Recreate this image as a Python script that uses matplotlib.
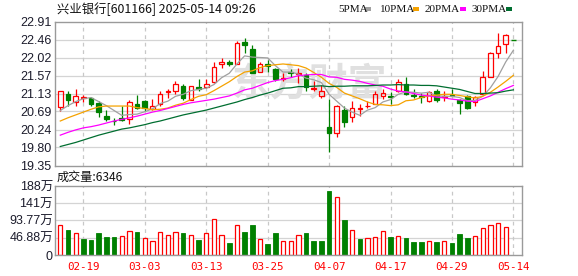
import matplotlib
matplotlib.use('Agg')
import matplotlib.pyplot as plt
from matplotlib.patches import Rectangle

# ---------------- data ----------------
dates = ['02-14', '02-17', '02-18', '02-19', '02-20', '02-21', '02-24', '02-25', '02-26', '02-27',
         '02-28', '03-03', '03-04', '03-05', '03-06', '03-07', '03-10', '03-11', '03-12', '03-13',
         '03-14', '03-17', '03-18', '03-19', '03-20', '03-21', '03-24', '03-25', '03-26', '03-27',
         '03-28', '03-31', '04-01', '04-02', '04-03', '04-07', '04-08', '04-09', '04-10', '04-11',
         '04-14', '04-15', '04-16', '04-17', '04-18', '04-21', '04-22', '04-23', '04-24', '04-25',
         '04-28', '04-29', '04-30', '05-06', '05-07', '05-08', '05-09', '05-12', '05-13', '05-14']

opens = [20.80, 21.12, 20.93, 21.01, 21.01, 20.89, 20.58, 20.46, 20.53, 20.49,
         20.87, 20.94, 20.75, 20.86, 21.17, 21.20, 21.31, 20.97, 21.28, 21.29,
         21.42, 21.87, 21.90, 21.87, 22.41, 22.22, 21.65, 21.86, 21.73, 21.50,
         21.65, 21.61, 21.59, 21.23, 21.07, 20.31, 20.15, 20.71, 20.55, 20.74,
         20.81, 20.87, 21.07, 21.07, 21.20, 21.36, 21.10, 21.07, 20.95, 21.20,
         21.05, 21.10, 20.96, 21.07, 20.93, 21.13, 21.55, 22.14, 22.36, 22.46]
highs = [21.20, 21.18, 21.25, 21.09, 21.05, 20.94, 20.73, 20.53, 20.83, 20.98,
         21.10, 20.98, 21.00, 21.18, 21.24, 21.44, 21.37, 21.31, 21.48, 21.50,
         21.91, 22.00, 21.95, 22.44, 22.49, 22.32, 21.90, 21.95, 21.77, 21.64,
         21.73, 21.75, 21.63, 21.44, 21.33, 21.00, 20.84, 20.83, 20.95, 20.87,
         20.95, 21.18, 21.24, 21.17, 21.49, 21.55, 21.25, 21.15, 21.20, 21.24,
         21.20, 21.24, 20.99, 21.10, 21.07, 21.68, 22.16, 22.63, 22.61, 22.46]
lows = [20.69, 20.81, 20.83, 20.93, 20.83, 20.54, 20.45, 20.36, 20.46, 20.38,
        20.75, 20.69, 20.73, 20.83, 21.01, 21.12, 20.98, 20.97, 21.20, 21.27,
        21.38, 21.75, 21.82, 21.86, 22.14, 21.63, 21.65, 21.66, 21.44, 21.44,
        21.53, 21.38, 21.18, 21.20, 21.02, 19.69, 20.05, 20.30, 20.42, 20.58,
        20.77, 20.87, 21.00, 20.88, 21.16, 21.09, 21.03, 20.89, 20.93, 20.93,
        20.95, 21.06, 20.62, 20.75, 20.83, 21.11, 21.55, 22.01, 22.13, 22.46]
closes = [21.18, 20.98, 21.07, 21.04, 20.87, 20.68, 20.50, 20.45, 20.47, 20.93,
          20.76, 20.78, 20.82, 21.12, 21.20, 21.36, 21.03, 21.31, 21.25, 21.36,
          21.78, 21.91, 21.87, 22.39, 22.34, 21.64, 21.86, 21.80, 21.48, 21.52,
          21.63, 21.64, 21.28, 21.27, 21.20, 20.15, 20.82, 20.43, 20.77, 20.76,
          20.83, 21.11, 21.15, 21.05, 21.41, 21.12, 21.06, 21.04, 21.16, 20.96,
          21.07, 21.06, 20.89, 20.76, 21.04, 21.53, 22.12, 22.30, 22.57, 22.46]

ma5 = [20.71, 20.83, 20.93, 21.00, 21.03, 20.93, 20.83, 20.71, 20.59, 20.61,
       20.62, 20.68, 20.75, 20.88, 20.94, 21.06, 21.11, 21.20, 21.23, 21.26,
       21.35, 21.52, 21.63, 21.86, 22.06, 22.03, 22.02, 22.01, 21.82, 21.66,
       21.66, 21.61, 21.51, 21.47, 21.40, 21.11, 20.94, 20.77, 20.67, 20.59,
       20.72, 20.78, 20.92, 20.98, 21.11, 21.17, 21.16, 21.14, 21.16, 21.07,
       21.06, 21.06, 21.03, 20.95, 20.96, 21.06, 21.27, 21.55, 21.91, 22.20]
ma10 = [20.45, 20.53, 20.60, 20.67, 20.74, 20.80, 20.82, 20.82, 20.82, 20.82,
        20.78, 20.76, 20.73, 20.74, 20.77, 20.84, 20.89, 20.98, 21.06, 21.10,
        21.20, 21.31, 21.42, 21.55, 21.66, 21.69, 21.77, 21.82, 21.84, 21.86,
        21.84, 21.82, 21.76, 21.65, 21.53, 21.38, 21.28, 21.14, 21.07, 21.00,
        20.92, 20.86, 20.85, 20.83, 20.85, 20.95, 20.97, 21.03, 21.07, 21.09,
        21.11, 21.11, 21.08, 21.05, 21.02, 21.06, 21.16, 21.29, 21.43, 21.58]
ma20 = [20.10, 20.17, 20.23, 20.28, 20.31, 20.35, 20.40, 20.45, 20.49, 20.53,
        20.57, 20.62, 20.67, 20.71, 20.76, 20.81, 20.86, 20.90, 20.93, 20.96,
        20.99, 21.03, 21.07, 21.14, 21.22, 21.26, 21.33, 21.40, 21.45, 21.48,
        21.52, 21.57, 21.59, 21.60, 21.60, 21.54, 21.53, 21.48, 21.46, 21.43,
        21.38, 21.34, 21.31, 21.24, 21.19, 21.17, 21.13, 21.09, 21.07, 21.04,
        21.02, 20.99, 20.97, 20.94, 20.93, 21.00, 21.07, 21.16, 21.25, 21.33]
ma30 = [19.82, 19.87, 19.92, 19.98, 20.04, 20.10, 20.15, 20.20, 20.25, 20.28,
        20.32, 20.36, 20.41, 20.45, 20.50, 20.55, 20.60, 20.64, 20.68, 20.72,
        20.77, 20.82, 20.87, 20.92, 20.98, 21.03, 21.09, 21.14, 21.20, 21.26,
        21.27, 21.30, 21.30, 21.31, 21.32, 21.30, 21.31, 21.31, 21.32, 21.32,
        21.32, 21.33, 21.34, 21.34, 21.35, 21.34, 21.34, 21.33, 21.33, 21.32,
        21.29, 21.26, 21.23, 21.18, 21.13, 21.13, 21.14, 21.15, 21.19, 21.22]

volume = [81.5, 68.0, 60.0, 43.5, 41.0, 60.0, 49.0, 49.0, 51.6, 65.0,
          62.5, 46.0, 38.0, 62.5, 54.0, 62.5, 60.0, 54.0, 41.0, 60.0,
          97.0, 54.0, 32.6, 81.5, 62.5, 81.5, 43.5, 30.0, 60.0, 38.0,
          38.0, 53.4, 60.0, 38.0, 38.0, 174.0, 157.0, 95.0, 67.0, 42.6,
          45.3, 48.0, 64.0, 48.0, 50.7, 45.3, 35.3, 35.3, 37.0, 35.3,
          37.0, 32.6, 57.0, 45.3, 50.7, 72.5, 80.6, 86.0, 75.0, 0.63]

price_tick_labels = ['19.35', '19.80', '20.24', '20.69', '21.13', '21.57', '22.02', '22.46', '22.91']
vol_tick_values = [0, 46.88, 93.77, 140.65, 187.53]
vol_tick_labels = ['0', '46.88万', '93.77万', '141万', '188万']
date_tick_labels = ['02-19', '03-03', '03-13', '03-25', '04-07', '04-17', '04-29', '05-14']
title_text = '兴业银行[601166] 2025-05-14 09:26'
vol_title = '成交量:6346'
ma_names = ['5PMA', '10PMA', '20PMA', '30PMA']
watermark = '东方财富'

# ---------------- style ----------------
W, H = 578, 276
UP = '#ff0000'
DOWN = '#008000'
MA_COLORS = ['#a0a0a0', '#f5a200', '#ff00ff', '#006e30']
SPINE = '#9a9a9a'
GRID = '#d4d4d4'
CJK = ['Noto Sans CJK SC', 'DejaVu Sans']
NUMF = ['Liberation Sans', 'Noto Sans CJK SC', 'DejaVu Sans']

fig = plt.figure(figsize=(W / 100, H / 100), dpi=100)
fig.patch.set_facecolor('white')

def px_axes(left, top, right, bottom):
    return fig.add_axes([left / W, (H - bottom) / H, (right - left) / W, (bottom - top) / H])

ax1 = px_axes(55, 21.5, 522, 165.5)
ax2 = px_axes(55, 186, 522, 255)

n = len(closes)
xs = list(range(n))
xlim = (-0.69, 60.12)
date_pos = [dates.index(d) for d in date_tick_labels]

for ax in (ax1, ax2):
    ax.set_xlim(*xlim)
    for s in ax.spines.values():
        s.set_color(SPINE)
        s.set_linewidth(1.0)
    ax.tick_params(length=0)
    for p in date_pos:
        ax.axvline(p, color='#c8c8c8', lw=0.9, ls=(0, (3, 3)), zorder=0.4)

# ---- price axes ----
ptick_vals = [float(t) for t in price_tick_labels]
ax1.set_ylim(ptick_vals[0], ptick_vals[-1])
ax1.set_yticks(ptick_vals)
ax1.set_yticklabels(price_tick_labels, fontsize=9, color='#1c1c2c', family=NUMF)
ax1.tick_params(axis='y', pad=2.5)
ax1.set_xticks([])
for v in ptick_vals[1:-1]:
    ax1.axhline(v, color=GRID, lw=0.9, zorder=0.3)

ax1.text(0.546, 0.56, watermark, transform=ax1.transAxes, fontsize=28, fontweight='bold',
         color='#e0e0e0', ha='center', va='center', family=CJK, zorder=0.5)

def candle_up(i):
    if closes[i] > opens[i]:
        return True
    if closes[i] < opens[i]:
        return False
    return i == 0 or closes[i] >= closes[i - 1]

bw = 0.6
for i in xs:
    o, h, l, c = opens[i], highs[i], lows[i], closes[i]
    up = candle_up(i)
    col = UP if up else DOWN
    top, bot = max(o, c), min(o, c)
    if top - bot < 0.004:
        ax1.vlines(i, l, h, color=col, lw=0.9, zorder=2)
        ax1.hlines(c, i - bw / 2, i + bw / 2, color=col, lw=1.0, zorder=2)
        continue
    if up:
        ax1.vlines(i, top, h, color=col, lw=0.9, zorder=2)
        ax1.vlines(i, l, bot, color=col, lw=0.9, zorder=2)
        ax1.add_patch(Rectangle((i - bw / 2, bot), bw, top - bot, facecolor='none',
                                edgecolor=col, lw=0.9, zorder=2))
    else:
        ax1.vlines(i, l, h, color=col, lw=0.9, zorder=2)
        ax1.add_patch(Rectangle((i - bw / 2, bot), bw, top - bot, facecolor=col,
                                edgecolor=col, lw=0.9, zorder=2))

for ma, colr in zip([ma5, ma10, ma20, ma30], MA_COLORS):
    ax1.plot(xs, ma, color=colr, lw=0.9, zorder=3)

# ---- volume axes ----
ax2.set_ylim(0, vol_tick_values[-1])
ax2.set_yticks(vol_tick_values)
ax2.set_yticklabels(vol_tick_labels, fontsize=9, color='#1c1c2c', family=NUMF)
ax2.tick_params(axis='y', pad=1.5)
for v in vol_tick_values[1:-1]:
    ax2.axhline(v, color=GRID, lw=0.9, zorder=0.3)
ax2.set_xticks(date_pos)
ax2.set_xticklabels(date_tick_labels, fontsize=7.8, color='#ff0000', family='DejaVu Sans Mono')
ax2.tick_params(axis='x', pad=5)

for i in xs:
    vup = (closes[i] > closes[i - 1]) if i > 0 else (closes[0] >= opens[0])
    if vup:
        ax2.add_patch(Rectangle((i - 0.28, 0), 0.56, volume[i], facecolor='white',
                                edgecolor=UP, lw=0.9, zorder=2))
    else:
        ax2.add_patch(Rectangle((i - 0.3, 0), 0.6, volume[i], facecolor=DOWN,
                                edgecolor=DOWN, lw=0.6, zorder=2))

# ---- header texts ----
def ftext(x, y, s, **kw):
    fig.text(x / W, 1 - y / H, s, va='center', **kw)

ftext(57, 9.5, title_text, fontsize=8.9, family=CJK, color='#111111')
ftext(57, 177.5, vol_title, fontsize=8.7, family=CJK, color='#111111')

leg_x = [338, 380, 425, 472]
sq_x = [365, 413, 460, 506]
for name, lx, sx, colr in zip(ma_names, leg_x, sq_x, MA_COLORS):
    ftext(lx, 9, name, fontsize=8.0, family='Liberation Serif', color='#111111')
    fig.add_artist(Rectangle((sx / W, 1 - 11 / H), 6 / W, 4 / H, transform=fig.transFigure,
                             facecolor=colr, edgecolor='none'))

fig.savefig('out.png', dpi=100)
